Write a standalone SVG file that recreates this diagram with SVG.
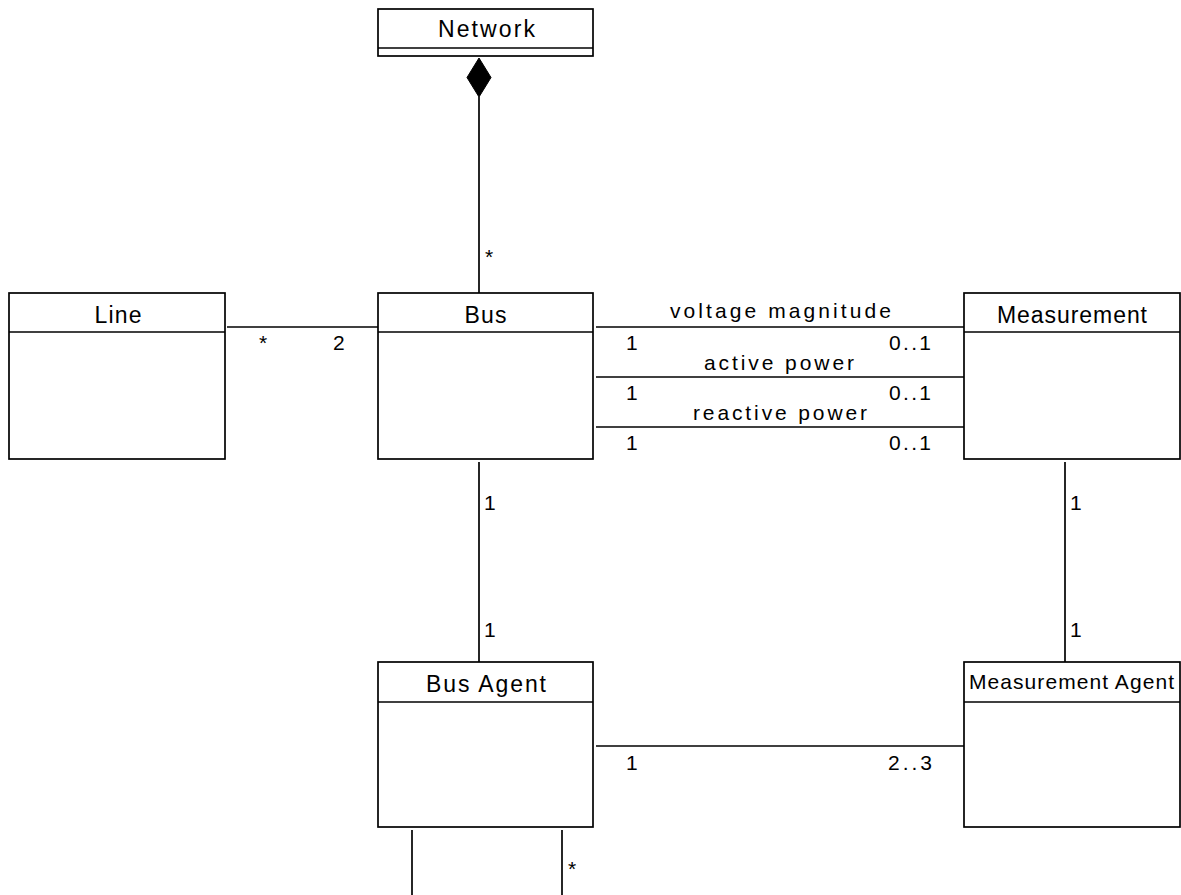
<svg xmlns="http://www.w3.org/2000/svg" width="1181" height="895" viewBox="0 0 1181 895">
<style>
.box{fill:#fff;stroke:#000;stroke-width:1.7}
.sep{stroke:#000;stroke-width:1.7}
.ln{stroke:#000;stroke-width:1.7;fill:none}
text{font-family:'Liberation Sans',Arimo,Helvetica,sans-serif;fill:#000}
.cn{font-size:23px;text-anchor:middle}
.lb{font-size:21px}
.mid{text-anchor:middle}
</style>
<rect width="1181" height="895" fill="#fff"/>
<g id="connectors">
<path class="ln" d="M479 97V293"/>
<polygon points="479,58 491,77.5 479,97 467,77.5" fill="#000" stroke="#000" stroke-width="1"/>
<path class="ln" d="M227 327H378"/>
<path class="ln" d="M596 327H964"/>
<path class="ln" d="M596 377H964"/>
<path class="ln" d="M596 427H964"/>
<path class="ln" d="M479 462V662"/>
<path class="ln" d="M1065 462V662"/>
<path class="ln" d="M596 746H964"/>
<path class="ln" d="M412 830V895"/>
<path class="ln" d="M562 830V895"/>
<text class="lb" x="485" y="264">*</text>
<text class="lb" x="259" y="350">*</text>
<text class="lb" x="333" y="350">2</text>
<text class="lb mid" x="780.5" y="318" textLength="221" lengthAdjust="spacing">voltage magnitude</text>
<text class="lb mid" x="779" y="370" textLength="150" lengthAdjust="spacing">active power</text>
<text class="lb mid" x="780" y="420" textLength="174" lengthAdjust="spacing">reactive power</text>
<text class="lb" x="626" y="350">1</text>
<text class="lb" x="626" y="400">1</text>
<text class="lb" x="626" y="450">1</text>
<text class="lb" x="889" y="350" textLength="42" lengthAdjust="spacing">0..1</text>
<text class="lb" x="889" y="400" textLength="42" lengthAdjust="spacing">0..1</text>
<text class="lb" x="889" y="450" textLength="42" lengthAdjust="spacing">0..1</text>
<text class="lb" x="484" y="510">1</text>
<text class="lb" x="484" y="637">1</text>
<text class="lb" x="1070" y="510">1</text>
<text class="lb" x="1070" y="637">1</text>
<text class="lb" x="626" y="770">1</text>
<text class="lb" x="888" y="770" textLength="44" lengthAdjust="spacing">2..3</text>
<text class="lb" x="568" y="876">*</text>
</g>
<g id="network">
<rect class="box" x="378" y="9" width="215" height="47"/>
<path class="sep" d="M378 48H593"/>
<text class="cn" x="486.5" y="37" textLength="97" lengthAdjust="spacing">Network</text>
</g>
<g id="line">
<rect class="box" x="9" y="293" width="216" height="166"/>
<path class="sep" d="M9 332H225"/>
<text class="cn" x="118" y="323" textLength="47" lengthAdjust="spacing">Line</text>
</g>
<g id="bus">
<rect class="box" x="378" y="293" width="215" height="166"/>
<path class="sep" d="M378 332H593"/>
<text class="cn" x="485.5" y="323" textLength="42" lengthAdjust="spacing">Bus</text>
</g>
<g id="measurement">
<rect class="box" x="964" y="293" width="216" height="166"/>
<path class="sep" d="M964 332H1180"/>
<text class="cn" x="1072" y="323" textLength="150" lengthAdjust="spacing">Measurement</text>
</g>
<g id="bus-agent">
<rect class="box" x="378" y="662" width="215" height="165"/>
<path class="sep" d="M378 702H593"/>
<text class="cn" x="486" y="692" textLength="120" lengthAdjust="spacing">Bus Agent</text>
</g>
<g id="measurement-agent">
<rect class="box" x="964" y="662" width="216" height="165"/>
<path class="sep" d="M964 702H1180"/>
<text class="cn" x="1071.5" y="689" style="font-size:21px" textLength="205" lengthAdjust="spacing">Measurement Agent</text>
</g>
</svg>
